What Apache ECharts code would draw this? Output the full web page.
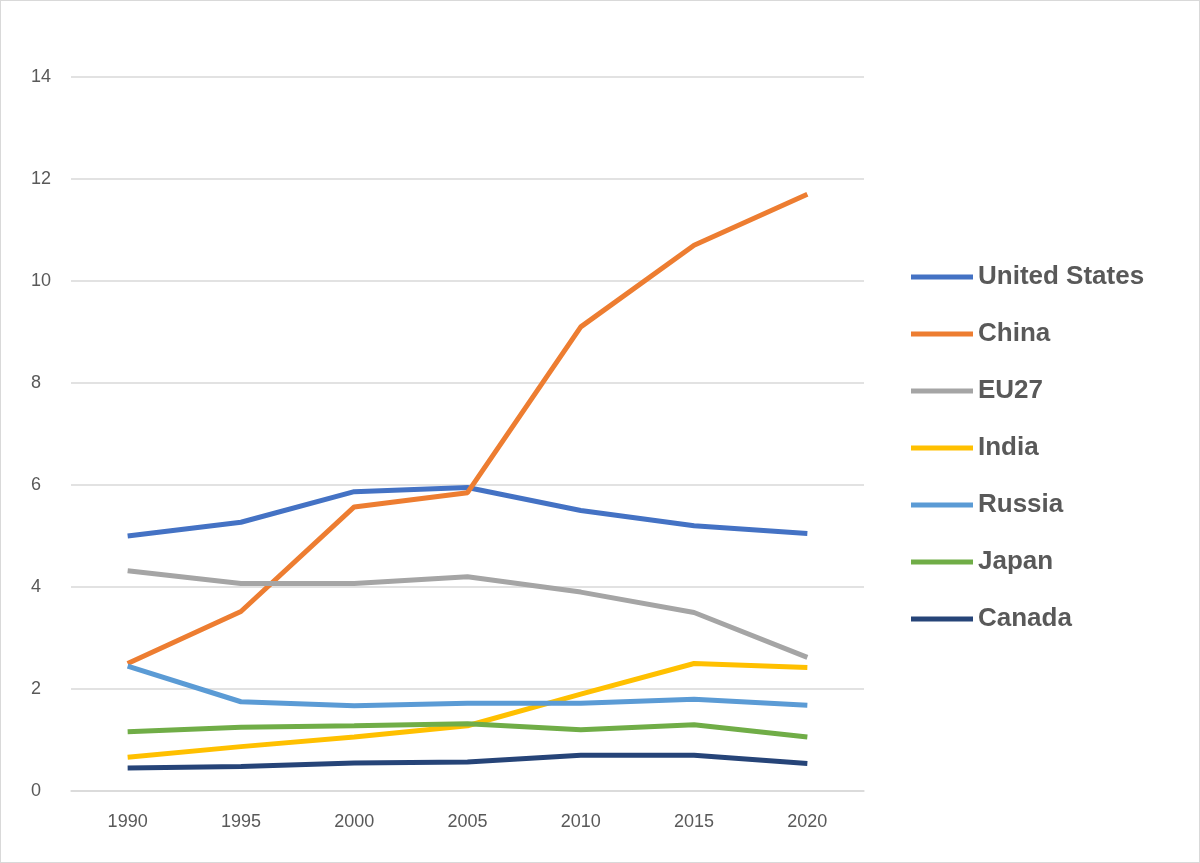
<!DOCTYPE html>
<html><head><meta charset="utf-8">
<script src="https://cdn.jsdelivr.net/npm/echarts@6/dist/echarts.min.js"></script>
<style>html,body{margin:0;background:#fff}#c{width:1200px;height:863px;box-sizing:border-box;border:1px solid #d9d9d9}</style>
</head><body><div id="c"></div>
<script>
const years=['1990','1995','2000','2005','2010','2015','2020'];
const us=[5.0,5.27,5.87,5.95,5.5,5.2,5.05];
const china=[2.5,3.52,5.57,5.85,9.1,10.7,11.7];
const eu27=[4.32,4.07,4.07,4.2,3.9,3.5,2.62];
const india=[0.66,0.87,1.06,1.28,1.9,2.5,2.42];
const russia=[2.45,1.75,1.67,1.72,1.72,1.8,1.68];
const japan=[1.16,1.25,1.28,1.32,1.2,1.3,1.06];
const canada=[0.45,0.48,0.55,0.57,0.7,0.7,0.54];
const names=['United States','China','EU27','India','Russia','Japan','Canada'];
const data=[us,china,eu27,india,russia,japan,canada];
const colors=['#4472C4','#ED7D31','#A5A5A5','#FFC000','#5B9BD5','#70AD47','#264478'];
const ch=echarts.init(document.getElementById('c'));
ch.setOption({
 animation:false,color:colors,
 grid:{left:70,right:335,top:76,bottom:71},
 legend:{orient:'vertical',left:905,top:258,itemGap:31,itemWidth:62,itemHeight:5,icon:'rect',
  textStyle:{fontSize:26,fontWeight:'bold',color:'#595959',fontFamily:'Liberation Sans'},data:names},
 xAxis:{type:'category',data:years,boundaryGap:true,axisTick:{show:false},
  axisLine:{lineStyle:{color:'#d9d9d9',width:1.5}},
  axisLabel:{fontSize:18,color:'#595959',margin:22,fontFamily:'Liberation Sans'}},
 yAxis:{type:'value',min:0,max:14,interval:2,axisLine:{show:false},
  splitLine:{lineStyle:{color:'#d9d9d9',width:1.5}},
  axisLabel:{fontSize:18,color:'#595959',margin:40,align:'left',fontFamily:'Liberation Sans'}},
 series:names.map((n,i)=>({name:n,type:'line',data:data[i],symbol:'none',lineStyle:{width:5}}))
});
</script></body></html>
